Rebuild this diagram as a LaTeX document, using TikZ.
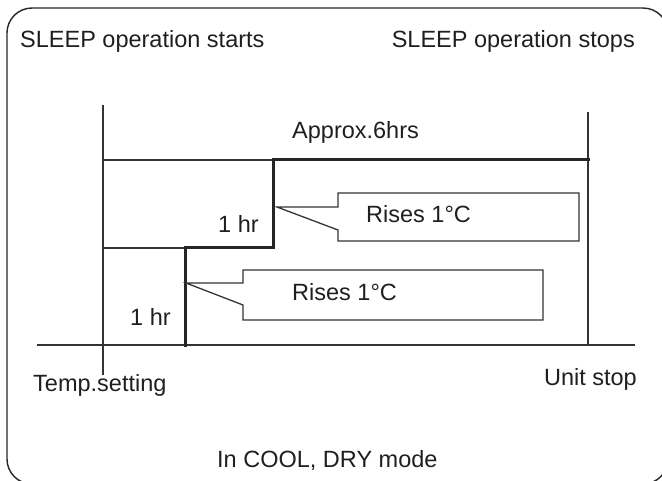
\documentclass[tikz,border=0pt]{standalone}
\usepackage{fontspec}
\setmainfont{Liberation Sans}
\begin{document}
\begin{tikzpicture}[x=1pt,y=-1pt,
  thinline/.style={draw=black!80,line width=1.3pt},
  thickline/.style={draw=black!85,line width=3pt,line join=miter,line cap=rect},
  lbl/.style={inner sep=0pt,text=black!88,font=\fontsize{23.5}{28}\selectfont},
  callout/.style={draw=black!80,line width=1.3pt,line join=miter}]
\useasboundingbox (0,0) rectangle (662,480);
\clip (0,0) rectangle (662,480);
% outer frame
\draw[draw=black!85,line width=1.4pt,rounded corners=25pt] (7,8) rectangle (668,484);
% axes
\draw[thinline] (103,105) -- (103,375);
\draw[thinline] (588,112) -- (588,345);
\draw[thinline] (37,345) -- (635,345);
\draw[thinline] (103,160) -- (273,160);
\draw[thinline] (103,248) -- (185,248);
% stepped thick curve
\draw[thickline] (588,159) -- (273,159) -- (273,247) -- (185,247) -- (185,345);
% callouts
\draw[callout] (277,207) -- (338,207) -- (338,193) -- (579,193) -- (579,241) -- (338,241) -- (338,230) -- cycle;
\draw[callout] (186,283) -- (243,283) -- (243,270) -- (543,270) -- (543,320) -- (243,320) -- (243,305) -- cycle;
% texts
\node[lbl,anchor=base west] (start) at (20,47) {SLEEP operation starts};
\node[lbl,anchor=base east] (stop) at (635,47) {SLEEP operation stops};
\node[lbl,anchor=base west] (approx) at (292,138) {Approx.6hrs};
\node[lbl,anchor=base west] (hrA) at (218,232) {1 hr};
\node[lbl,anchor=base west] (hrB) at (130,325) {1 hr};
\node[lbl,anchor=base west] (riseA) at (366,222) {Rises 1°C};
\node[lbl,anchor=base west] (riseB) at (292,300) {Rises 1°C};
\node[lbl,anchor=base west] (temp) at (33,391) {Temp.setting};
\node[lbl,anchor=base east] (unit) at (637,385) {Unit stop};
\node[lbl,anchor=base west] (mode) at (217,467) {In COOL, DRY mode};
\end{tikzpicture}
\end{document}
